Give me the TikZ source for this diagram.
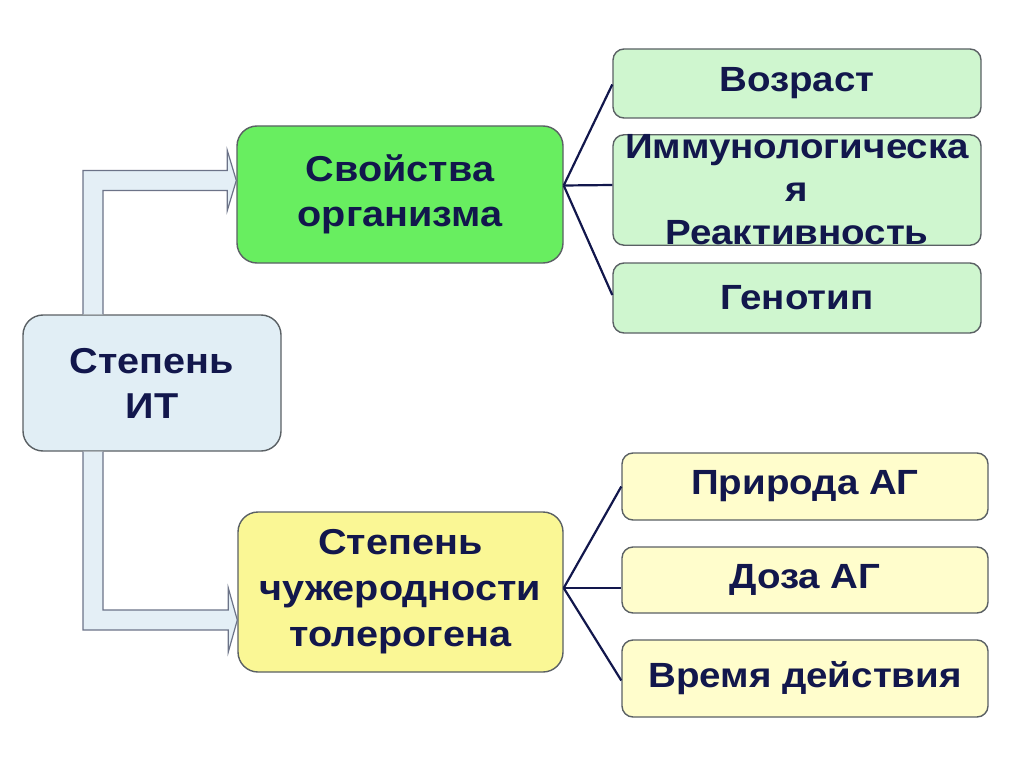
\documentclass[tikz,border=0pt]{standalone}
\usepackage{fontspec}
\setmainfont{Liberation Sans}[FakeStretch=1.1]
\usetikzlibrary{positioning}
\usetikzlibrary{calc}
\definecolor{inkblue}{HTML}{12174C}
\definecolor{rimgray}{HTML}{5A6064}
\definecolor{itblue}{HTML}{E1EEF5}
\definecolor{orggreen}{HTML}{68EE60}
\definecolor{agyellow}{HTML}{FAF795}
\definecolor{paleggreen}{HTML}{CFF6CF}
\definecolor{paleyellow}{HTML}{FFFDCC}
\definecolor{arrowfill}{HTML}{E4EFF6}
\definecolor{arrowrim}{HTML}{6C7388}

\tikzset{
  bigbox/.style={draw=rimgray, line width=1.4pt, rounded corners=20pt, align=center,
    text=inkblue, font=\bfseries\fontsize{36}{45}\selectfont, inner sep=0pt},
  smallbox/.style={draw=rimgray, line width=1.4pt, rounded corners=11pt, align=center,
    text=inkblue, font=\bfseries\fontsize{35}{43}\selectfont, inner sep=0pt,
    minimum width=368pt},
  fan/.style={draw=inkblue, line width=2.2pt},
  flow/.style={fill=arrowfill, draw=arrowrim, line width=1.2pt, line join=miter}
}

\begin{document}
\begin{tikzpicture}[x=1pt,y=-1pt]
  \useasboundingbox (0,0) rectangle (1024,767);

  % main boxes
  \node[bigbox, fill=itblue, minimum width=258pt, minimum height=136pt] (stepIT) at (152,383) {Степень\\ИТ};
  \node[bigbox, fill=orggreen, minimum width=326pt, minimum height=137pt] (svoistva) at (400,194.5) {Свойства\\организма};
  \node[bigbox, fill=agyellow, minimum width=325pt, minimum height=160pt, font=\bfseries\fontsize{36}{46}\selectfont] (chuzh) at (400.5,592) {Степень\\чужеродности\\толерогена};

  % right boxes, top
  \node[smallbox, fill=paleggreen, minimum height=69pt] (vozrast) at (797,83.5) {Возраст};
  \node[smallbox, fill=paleggreen, minimum height=110pt] (immun) at (797,190) {Иммунологическа\\я\\Реактивность};
  \node[smallbox, fill=paleggreen, minimum height=70pt] (genotip) at (797,298) {Генотип};

  % right boxes, bottom
  \node[smallbox, fill=paleyellow, minimum width=366pt, minimum height=67pt] (priroda) at (805,486.5) {Природа АГ};
  \node[smallbox, fill=paleyellow, minimum width=366pt, minimum height=66pt] (doza) at (805,580) {Доза АГ};
  \node[smallbox, fill=paleyellow, minimum width=366pt, minimum height=77pt] (vremya) at (805,678.5) {Время действия};

  % fans
  \draw[fan] ([yshift=9pt]svoistva.east) -- ([yshift=-1pt]vozrast.west);
  \draw[fan] ([yshift=9pt]svoistva.east) -- ([yshift=5pt]immun.west);
  \draw[fan] ([yshift=9pt]svoistva.east) -- ([yshift=3pt]genotip.west);
  \draw[fan] ([yshift=4pt]chuzh.east) -- (priroda.west);
  \draw[fan] ([yshift=4pt]chuzh.east) -- ([yshift=-8pt]doza.west);
  \draw[fan] ([yshift=4pt]chuzh.east) -- ([yshift=-2pt]vremya.west);

  % block arrows
  \coordinate (barL) at (83,0);
  \coordinate (barR) at (103,0);
  \coordinate (tipA) at ([yshift=14pt]svoistva.west);
  \coordinate (tipB) at ([yshift=-28pt]chuzh.west);
  \draw[flow] (stepIT.north -| barL) -- ($(tipA -| barL)+(0,-10)$) -- ($(tipA)+(-9,-10)$)
    -- ($(tipA)+(-9,-30)$) -- (tipA) -- ($(tipA)+(-9,30)$) -- ($(tipA)+(-9,10)$)
    -- ($(tipA -| barR)+(0,10)$) -- (stepIT.north -| barR);
  \draw[flow] (stepIT.south -| barL) -- ($(tipB -| barL)+(0,10)$) -- ($(tipB)+(-9,10)$)
    -- ($(tipB)+(-9,32)$) -- (tipB) -- ($(tipB)+(-9,-32)$) -- ($(tipB)+(-9,-10)$)
    -- ($(tipB -| barR)+(0,-10)$) -- (stepIT.south -| barR);
\end{tikzpicture}
\end{document}
